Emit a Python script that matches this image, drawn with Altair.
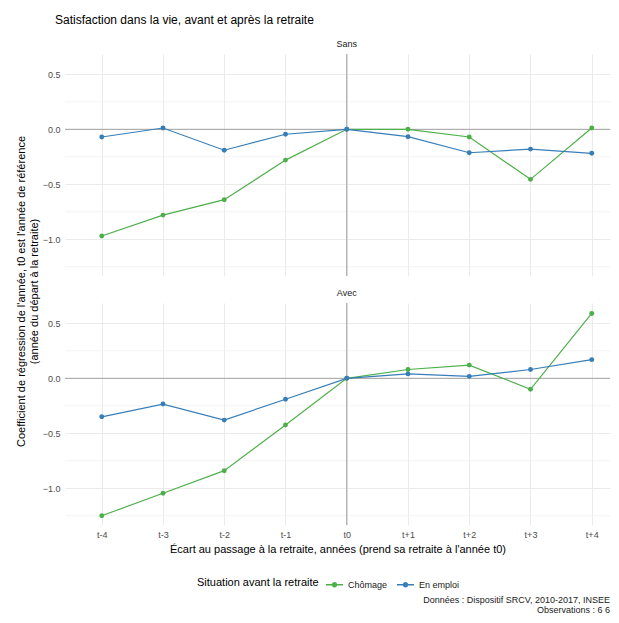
import json
import altair as alt
import pandas as pd

# ---- data ----
periods = ["t-4", "t-3", "t-2", "t-1", "t0", "t+1", "t+2", "t+3", "t+4"]
situations = ["Chômage", "En emploi"]
panels = ["Sans", "Avec"]
sans_chomage = [-0.97, -0.78, -0.64, -0.28, 0.0, 0.0, -0.07, -0.455, 0.012]
sans_emploi = [-0.07, 0.012, -0.19, -0.045, 0.0, -0.067, -0.213, -0.18, -0.218]
avec_chomage = [-1.25, -1.045, -0.84, -0.425, 0.0, 0.08, 0.12, -0.10, 0.59]
avec_emploi = [-0.35, -0.234, -0.38, -0.19, 0.0, 0.04, 0.018, 0.08, 0.17]
series_colors = ["#4DAF4A", "#377EB8"]
y_major = [-1.0, -0.5, 0.0, 0.5]
y_minor = [-1.25, -0.75, -0.25, 0.25]
title_text = "Satisfaction dans la vie, avant et après la retraite"
x_title = "Écart au passage à la retraite, années (prend sa retraite à l'année t0)"
y_title = ["Coefficient de régression de l'année, t0 est l'année de référence",
           "(année du départ à la retraite)"]
legend_title = "Situation avant la retraite"
caption_1 = "Données : Dispositif SRCV, 2010-2017, INSEE"
caption_2 = "Observations :  6 6"

rows = []
for pname, ser in (("Sans", (sans_chomage, sans_emploi)), ("Avec", (avec_chomage, avec_emploi))):
    for sit, vals in zip(situations, ser):
        for i, v in enumerate(vals):
            rows.append({"panel": pname, "situation": sit, "idx": i, "value": v})
df = pd.DataFrame(rows)

W = 545
H = 222
FONT = "Liberation Sans"

x_label_expr = json.dumps(periods) + "[datum.value]"

color_scale = alt.Scale(domain=situations, range=series_colors)
legend = alt.Legend(
    title=legend_title, orient="none", legendX=132, legendY=522,
    direction="horizontal", titleOrient="left", titleFontSize=11,
    titleFont=FONT, titleFontWeight="normal", titleColor="#000000",
    labelFontSize=9, labelFont=FONT, labelColor="#1a1a1a",
    symbolType="M-1,-0.075L1,-0.075L1,0.075L-1,0.075Z M0.32,0A0.32,0.32 0 1,1 -0.32,0A0.32,0.32 0 1,1 0.32,0Z",
    symbolSize=289, symbolStrokeWidth=0, symbolOpacity=1,
    titlePadding=7, labelOffset=5, columnPadding=9,
)

x_scale = alt.Scale(domain=[-0.6, 8.298], nice=False, zero=False)
y_scale = alt.Scale(domain=[-1.334, 0.685], nice=False, zero=False)


def panel(name, bottom):
    d = df[df.panel == name]
    x = alt.X(
        "idx:Q", scale=x_scale,
        axis=alt.Axis(
            values=list(range(len(periods))), labelExpr=x_label_expr,
            labels=bottom, title=x_title if bottom else None,
            grid=True, gridColor="#ebebeb", gridWidth=1,
            ticks=False, domain=False, labelFontSize=9, labelColor="#4d4d4d",
            labelFont=FONT, labelPadding=5, titleFontSize=11, titleFont=FONT,
            titleFontWeight="normal", titleColor="#000000", titlePadding=4,
        ),
    )
    yaxis_kw = dict(
        values=y_major, format=".1f", grid=True,
        gridColor="#ebebeb", gridWidth=1,
        ticks=False, domain=False, labelFontSize=9, labelColor="#4d4d4d",
        labelFont=FONT, labelPadding=5,
    )
    if bottom:
        yaxis_kw.update(title=y_title, titleFontSize=11, titleFont=FONT,
                        titleFontWeight="normal", titleColor="#000000",
                        titleX=-43.5, titleY=-12, titleAngle=270,
                        titleAlign="center", titleBaseline="middle",
                        titleLineHeight=13)
    else:
        yaxis_kw.update(title=None)
    y = alt.Y("value:Q", scale=y_scale, axis=alt.Axis(**yaxis_kw))

    base = alt.Chart(d)
    minor = alt.Chart(pd.DataFrame({"value": y_minor})).mark_rule(
        color="#ebebeb", strokeWidth=0.6).encode(y=alt.Y("value:Q", scale=y_scale))
    hline = alt.Chart(pd.DataFrame({"value": [0.0]})).mark_rule(
        color="#a0a0a0", strokeWidth=1).encode(y=alt.Y("value:Q", scale=y_scale))
    vline = alt.Chart(pd.DataFrame({"idx": [periods.index("t0")]})).mark_rule(
        color="#a0a0a0", strokeWidth=1).encode(x=alt.X("idx:Q", scale=x_scale))
    strip = alt.Chart(pd.DataFrame({"panel": [name]})).mark_text(
        fontSize=9, font=FONT, color="#1a1a1a", baseline="middle"
    ).encode(text="panel:N", x=alt.datum(periods.index("t0")), y=alt.value(-10))
    lines = base.mark_line(strokeWidth=1.2).encode(
        x=x, y=y, color=alt.Color("situation:N", scale=color_scale, legend=legend))
    pts = base.mark_point(filled=True, size=24, opacity=1).encode(
        x=x, y=y, color=alt.Color("situation:N", scale=color_scale, legend=legend))
    return alt.layer(minor, hline, vline, lines, pts, strip).properties(width=W, height=H)


top = panel("Sans", False)
bottom = panel("Avec", True)

cap = pd.DataFrame({"t": [caption_1, caption_2]})
cap1 = alt.Chart(cap.iloc[[0]]).mark_text(
    align="right", baseline="middle", fontSize=9, font=FONT, color="#1a1a1a"
).encode(text="t:N", x=alt.value(W), y=alt.value(48))
cap2 = alt.Chart(cap.iloc[[1]]).mark_text(
    align="right", baseline="middle", fontSize=9, font=FONT, color="#1a1a1a"
).encode(text="t:N", x=alt.value(W), y=alt.value(57.5))
caption = alt.layer(cap1, cap2).properties(width=W, height=60)

chart = alt.vconcat(top, bottom, caption, spacing=27, bounds="flush").resolve_scale(
    color="shared").resolve_legend(color="shared").properties(
    title=alt.TitleParams(title_text, anchor="start", frame="group", dx=-10,
                          fontSize=12, font=FONT, fontWeight="normal",
                          color="#000000", offset=13),
    padding={"left": 7, "top": 6, "right": 0, "bottom": 0},
    background="white",
).configure_view(stroke=None)

chart.save("out.html", embed_options={"renderer": "svg", "actions": False})
